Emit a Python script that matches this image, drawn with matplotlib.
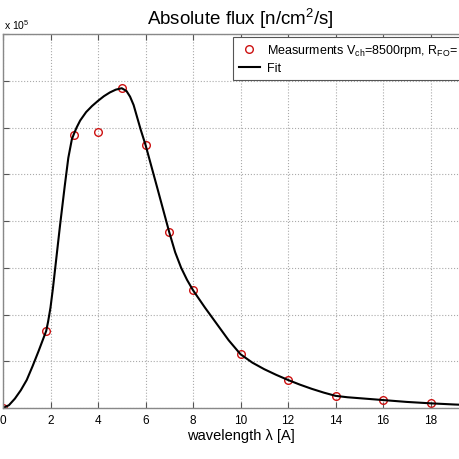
import numpy as np
import matplotlib.pyplot as plt

plt.rcParams['font.family'] = ['Liberation Sans', 'DejaVu Sans']
plt.rcParams['mathtext.fontset'] = 'custom'
plt.rcParams['mathtext.rm'] = 'Liberation Sans'
plt.rcParams['mathtext.it'] = 'Liberation Sans'

# measured points (flux in units of 1e5)
meas_x = [0, 1.82, 3, 4, 5, 6, 7, 8, 10, 12, 14, 16, 18]
meas_y = [0.0, 1.65, 5.85, 5.90, 6.84, 5.63, 3.76, 2.52, 1.15, 0.605, 0.263, 0.171, 0.10]

# fit curve
fit_x = [0, 0.25, 0.5, 0.75, 1.0, 1.25, 1.5, 1.82, 1.9, 2.0, 2.1, 2.2, 2.4,
         2.6, 2.75, 2.9, 3.0, 3.1, 3.25, 3.5, 3.75, 4.0, 4.25, 4.5, 4.75, 5.0,
         5.2, 5.35, 5.5, 5.63, 5.8, 6.0, 6.5, 7.0, 7.25, 7.5, 7.75, 8.0, 8.5,
         9.0, 9.5, 10, 10.5, 11, 11.5, 12, 12.5, 13, 13.5, 14, 14.5, 15, 15.5,
         16, 17, 18, 19, 20]
fit_y = [0.0, 0.06, 0.2, 0.38, 0.6, 0.9, 1.22, 1.65, 1.85, 2.15, 2.55, 3.0,
         3.9, 4.75, 5.35, 5.75, 5.88, 6.0, 6.15, 6.33, 6.46, 6.57, 6.67, 6.75,
         6.81, 6.84, 6.78, 6.66, 6.48, 6.25, 5.95, 5.63, 4.7, 3.76, 3.33, 3.0,
         2.74, 2.52, 2.15, 1.8, 1.45, 1.15, 0.97, 0.83, 0.71, 0.6, 0.5, 0.41,
         0.33, 0.26, 0.23, 0.21, 0.19, 0.17, 0.13, 0.10, 0.075, 0.055]

xticks = np.arange(0, 21, 2)
xlabels = ['0', '2', '4', '6', '8', '10', '12', '14', '16', '18', '']
yticks = np.arange(0, 9, 1)

fig = plt.figure(figsize=(4.6, 4.6), dpi=100)
# axes deliberately runs off the left/right edges like the cropped original
ax = fig.add_axes([3 / 460, 51 / 460, 475 / 460, 374 / 460])

ax.plot(meas_x, meas_y, 'o', mfc='none', mec='#cc1111', ms=5.5, mew=1.0,
        label='Measurments V$_{\\mathrm{ch}}$=8500rpm, R$_{\\mathrm{FO}}$=')
ax.plot(fit_x, fit_y, '-', color='black', lw=1.5, label='Fit')

ax.set_xlim(0, 20)
ax.set_ylim(0, 8)
ax.set_xticks(xticks)
ax.set_xticklabels(xlabels)
ax.set_yticks(yticks)
ax.set_yticklabels([])
ax.tick_params(direction='in', length=4, top=True, right=True,
               labelsize=8.5, color='#555555', pad=4)
for s in ax.spines.values():
    s.set_color('#888888')
    s.set_linewidth(1.0)
ax.grid(True, ls=':', color='#aaaaaa', lw=0.8)

ax.set_title('Absolute flux [n/cm$^2$/s]', fontsize=13.5, pad=7)
ax.set_xlabel('wavelength \u03bb [A]', fontsize=10.5, labelpad=2)
fig.text(4 / 460, 1 - 30 / 460, 'x 10$^5$', fontsize=7.5)

leg = ax.legend(loc='upper left', bbox_to_anchor=(0.484, 0.993), fontsize=9,
                fancybox=False, framealpha=1, edgecolor='#555555',
                borderaxespad=0, handlelength=1.7, handletextpad=0.55,
                borderpad=0.45, labelspacing=0.3)
leg.get_frame().set_linewidth(0.8)

fig.savefig('out.png', dpi=100)
